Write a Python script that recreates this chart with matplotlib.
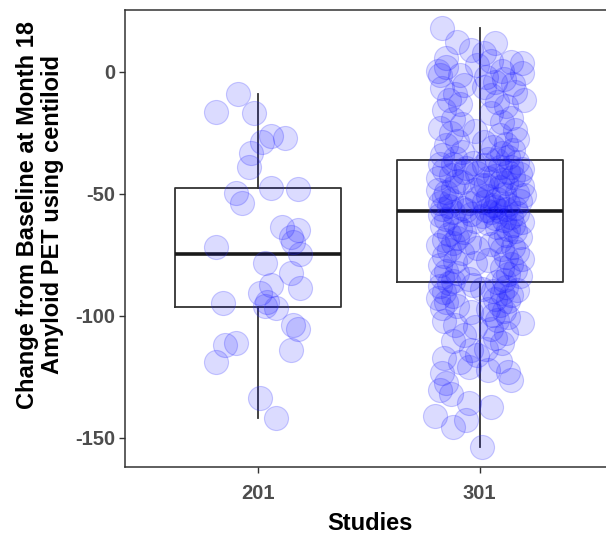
import matplotlib
matplotlib.use("Agg")
import matplotlib.pyplot as plt
import numpy as np

plt.rcParams['font.family'] = ['Liberation Sans', 'DejaVu Sans']

studies = ["201", "301"]

# Study 201: change from baseline (centiloid) and horizontal jitter (category units)
y201 = [-9.2, -16.4, -17.0, -26.5, -27.3, -28.8, -33.3, -39.0, -47.6, -47.9,
        -49.8, -53.9, -63.6, -64.9, -67.8, -69.8, -72.0, -74.7, -78.5, -82.6,
        -87.4, -88.8, -90.8, -94.3, -94.9, -96.0, -97.0, -104.0, -105.5, -111.3,
        -112.0, -114.0, -118.9, -133.9, -141.8]
j201 = [-0.09, -0.19, -0.02, 0.06, 0.12, 0.02, -0.03, -0.04, 0.06, 0.18,
        -0.10, -0.07, 0.11, 0.18, 0.15, 0.16, -0.19, 0.19, 0.03, 0.15,
        0.06, 0.19, 0.01, 0.04, -0.16, 0.03, 0.08, 0.16, 0.18, -0.10,
        -0.15, 0.15, -0.19, 0.01, 0.08]

# Study 301
y301 = [
    17.8, 12.3, 11.6, 8.9, 7.6, 5.5, 3.4, 2.0, 4.2, 0.5, 2.8, 3.9, 0.2, -0.6, -1.2,
    -2.0, -3.1, -4.4, -1.5, -4.9, -5.5, -6.8, -8.2, -6.1, -9.0, -9.6, -11.6, -11.6,
    -12.5, -13.3, -14.1, -15.6, -16.8, -18.9, -19.4, -20.7, -21.5, -23.0, -23.8, -24.4,
    -25.3, -26.1, -27.6, -28.2, -28.9, -29.5, -30.2, -30.9, -32.2, -32.8, -33.4, -34.0,
    -35.1, -35.5, -35.7,
    -36.1, -36.9, -37.3, -38.0, -38.4, -39.0, -39.3, -39.8, -37.7, -38.9,
    -40.2, -40.9, -41.2, -41.9, -42.3, -42.6, -43.3, -43.7, -44.3, -44.7, -41.4, -43.5,
    -45.2, -45.6, -46.3, -46.7, -47.4, -47.8, -48.5, -49.2, -49.6, -46.5, -48.3,
    -50.2, -50.9, -51.2, -51.9, -52.2, -52.5, -52.9, -53.5, -53.9, -54.2, -54.8, -50.7,
    -53.7,
    -55.1, -55.3, -55.8, -56.0, -56.2, -56.4, -56.6, -56.8, -56.9,
    -57.3, -57.9, -58.2, -58.8, -59.1, -59.4, -59.9, -57.6,
    -60.3, -60.7, -61.4, -61.8, -62.1, -62.9, -63.2, -63.6, -64.3, -64.6, -61.0,
    -65.3, -65.7, -66.5, -66.9, -67.7, -68.1, -68.9, -69.3, -69.7,
    -70.3, -71.2, -71.7, -72.6, -73.0, -73.9, -74.4, -72.3, -70.8,
    -75.4, -75.9, -76.9, -77.4, -78.4, -78.9, -79.4, -77.0,
    -80.3, -81.1, -81.5, -82.3, -82.8, -83.6, -84.0, -84.9, -85.4, -85.9,
    -86.2, -86.6, -87.3, -88.0, -88.4, -89.1, -89.4, -89.9,
    -90.3, -90.7, -91.5, -91.9, -92.8, -93.2, -94.1, -94.5,
    -95.4, -95.9, -96.9, -97.4, -98.2, -98.6, -99.5,
    -100.4, -101.6, -102.2, -103.1, -103.6, -104.6,
    -105.6, -107.0, -107.8, -109.0,
    -110.5, -111.3, -113.5, -114.0,
    -116.0, -117.4, -118.5, -119.0, -121.0, -122.3, -123.0, -123.6, -126.4, -127.5,
    -130.4, -132.0, -135.9, -137.3, -141.3, -142.7, -145.5, -154.0]
j301 = [
    -0.17, -0.10, 0.07, -0.04, 0.02, -0.15, 0.19, -0.15, 0.05, 0.10, -0.01, 0.14, -0.19, 0.19, -0.09,
    0.03, 0.11, 0.07, -0.18, 0.15, -0.07, -0.17, 0.16, 0.02, -0.11, 0.05, -0.14, 0.20,
    0.08, -0.09, 0.12, -0.16, 0.05, 0.14, -0.12, 0.10, -0.08, -0.18, 0.16, -0.02,
    -0.13, 0.09, 0.17, -0.10, 0.02, 0.12, -0.15, 0.06, 0.15, -0.08, 0.10, -0.17,
    0.13, -0.11, 0.04,
    0.08, 0.17, -0.03, -0.18, 0.02, 0.14, -0.06, 0.19, -0.12, 0.09,
    -0.16, -0.07, 0.13, 0.18, -0.13, 0.07, 0.15, -0.19, 0.10, -0.10, -0.01, 0.04,
    -0.08, 0.12, 0.03, 0.19, 0.09, -0.12, -0.02, -0.15, 0.17, 0.01, -0.19,
    0.11, 0.04, -0.16, -0.01, 0.08, -0.13, 0.18, 0.02, -0.18, 0.13, 0.06, 0.20,
    -0.05,
    -0.14, 0.07, 0.16, -0.08, 0.12, -0.17, 0.03, -0.06, 0.09,
    0.05, 0.17, -0.04, -0.18, 0.01, 0.14, 0.07, -0.12,
    -0.15, 0.11, 0.19, -0.11, 0.04, 0.15, -0.17, 0.08, 0.13, -0.09, -0.02,
    0.16, -0.07, -0.14, 0.12, 0.18, -0.10, -0.16, 0.09, -0.05,
    -0.12, -0.19, 0.15, 0.10, -0.14, 0.17, -0.08, -0.01, 0.05,
    -0.16, 0.12, 0.19, -0.11, -0.02, 0.14, -0.18, 0.04,
    0.10, 0.16, -0.15, -0.10, 0.13, 0.18, -0.17, -0.05, 0.11, -0.12,
    0.08, -0.14, -0.03, -0.18, 0.12, 0.01, 0.17, 0.06,
    -0.16, 0.10, 0.14, -0.12, -0.19, 0.07, 0.13, -0.15,
    0.09, -0.10, -0.17, 0.04, 0.11, -0.04, 0.06,
    0.13, 0.08, -0.16, 0.19, -0.11, -0.02,
    0.05, 0.12, -0.07, 0.07,
    -0.12, 0.10, 0.03, -0.04,
    -0.01, -0.16, 0.09, -0.09, -0.05, 0.04, 0.13, -0.17, 0.14, -0.15,
    -0.18, -0.13, -0.05, 0.05, -0.20, -0.06, -0.12, 0.01]

yticks = [0, -50, -100, -150]

fig = plt.figure(figsize=(6.06, 5.36), dpi=100)
W, H = 606, 536
ax = fig.add_axes([125 / W, 1 - 467 / H, (612.6 - 125) / W, (467 - 10) / H])

positions = np.arange(1, len(studies) + 1)
ax.boxplot([y201, y301], positions=positions, widths=0.75, whis=1.5,
           showcaps=False, showfliers=False,
           boxprops=dict(color='#333333', linewidth=1.3),
           whiskerprops=dict(color='#333333', linewidth=1.3),
           medianprops=dict(color='#1a1a1a', linewidth=2.6),
           zorder=2)

for pos, ys, js in [(positions[0], y201, j201), (positions[1], y301, j301)]:
    xs = pos + np.asarray(js)
    ax.scatter(xs, ys, s=300, facecolor=(0, 0, 1, 0.14),
               edgecolor=(0.2, 0.2, 1, 0.25), linewidth=0.8, zorder=3)

ax.set_xlim(0.4, 2.6)
ax.set_ylim(-162.0, 25.3)
ax.set_xticks(positions)
ax.set_xticklabels(studies)
ax.set_yticks(yticks)
ax.set_yticklabels([str(t) for t in yticks])
for sp in ax.spines.values():
    sp.set_color('#333333')
    sp.set_linewidth(1.1)
ax.tick_params(axis='both', colors='#333333', length=4, width=1.0,
               labelsize=14.5, labelcolor='#4D4D4D', pad=3)
for lab in ax.get_xticklabels() + ax.get_yticklabels():
    lab.set_fontweight('bold')
ax.tick_params(axis='x', pad=8)

fig.text(370 / W, 1 - 524 / H, "Studies", ha='center', va='center',
         fontsize=17, fontweight='bold', color='black')
fig.text(40 / W, 1 - 215 / H,
         "Change from Baseline at Month 18\nAmyloid PET using centiloid",
         ha='center', va='center', rotation=90, multialignment='center',
         fontsize=17, fontweight='bold', color='black', linespacing=1.15)

fig.savefig("out.png", dpi=100)
